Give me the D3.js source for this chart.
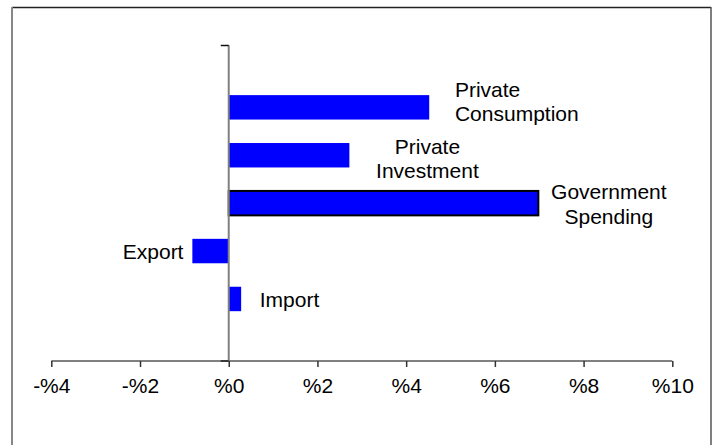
<!DOCTYPE html>
<html>
<head>
<meta charset="utf-8">
<script src="https://cdn.jsdelivr.net/npm/d3@7"></script>
<style>
    body { margin: 0; background: #fff; }
    text { font-family: "Liberation Sans", Arial, sans-serif; fill: #000; }
</style>
</head>
<body>
<div id="chart"></div>
<script>

// data
let categories = ['Private Consumption', 'Private Investment', 'Government Spending', 'Export', 'Import'];
let values = [4.52, 2.72, 6.98, -0.82, 0.28];
let highlighted = [false, false, true, false, false];
let tickValues = [-4, -2, 0, 2, 4, 6, 8, 10];

// data label text, split in lines
let labelLines = [['Private', 'Consumption'], ['Private', 'Investment'], ['Government', 'Spending'], ['Export'], ['Import']];

// label placement (x in % units, first line offset from bar centre in px)
let labelLayout = [
    {at: 5.10, anchor: 'start', dy: -18},
    {at: 4.48, anchor: 'middle', dy: -9},
    {at: 8.57, anchor: 'middle', dy: -11.5},
    {at: -1.02, anchor: 'end', dy: 0.5},
    {at: 0.70, anchor: 'start', dy: 1}
];

let width = 718, height = 445;
let fontSize = 21;

let svg = d3.select('#chart').append('svg')
    .attr('width', width)
    .attr('height', height);

// outer frame
svg.append('line').attr('x1', 12).attr('x2', 711).attr('y1', 7.5).attr('y2', 7.5)
    .attr('stroke', '#222').attr('stroke-width', 1.5);
svg.append('line').attr('x1', 12).attr('x2', 12).attr('y1', 7).attr('y2', 445)
    .attr('stroke', '#888').attr('stroke-width', 2);
svg.append('line').attr('x1', 711).attr('x2', 711).attr('y1', 7).attr('y2', 445)
    .attr('stroke', '#555').attr('stroke-width', 1.5);

let xScale = d3.scaleLinear()
    .domain([-4, 10])
    .range([51.3, 672.3]);

let yScale = d3.scaleBand()
    .domain(categories)
    .range([45.3, 361])
    .paddingInner(0.49)
    .paddingOuter(1.04);

// bars
svg.selectAll('.bar')
    .data(categories)
    .enter()
    .append('rect')
    .attr('class', 'bar')
    .attr('x', (d, i) => xScale(Math.min(0, values[i])))
    .attr('y', d => yScale(d))
    .attr('width', (d, i) => Math.abs(xScale(values[i]) - xScale(0)))
    .attr('height', yScale.bandwidth())
    .attr('fill', '#0000ff')
    .attr('stroke', (d, i) => highlighted[i] ? '#000' : 'none')
    .attr('stroke-width', 2);

// y axis (category axis at zero)
svg.append('line')
    .attr('x1', xScale(0)).attr('x2', xScale(0))
    .attr('y1', 45.3).attr('y2', 361)
    .attr('stroke', '#808080').attr('stroke-width', 2);
svg.append('line')
    .attr('x1', xScale(0) - 8).attr('x2', xScale(0))
    .attr('y1', 45.5).attr('y2', 45.5)
    .attr('stroke', '#111').attr('stroke-width', 1.5);

// x axis
let xAxis = d3.axisBottom(xScale)
    .tickValues(tickValues)
    .tickSize(6)
    .tickFormat(d => (d < 0 ? '-' : '') + '%' + Math.abs(d));

let xAxisGroup = svg.append('g')
    .attr('class', 'x-axis axis')
    .attr('transform', 'translate(0, 361)')
    .call(xAxis);

xAxisGroup.select('.domain')
    .attr('d', `M${xScale(-4)},0H${xScale(10)}`)
    .attr('stroke', '#808080').attr('stroke-width', 2);
xAxisGroup.selectAll('.tick line').attr('stroke', '#333').attr('stroke-width', 1.5);
xAxisGroup.selectAll('.tick text')
    .attr('y', 17)
    .style('font-family', '"Liberation Sans", Arial, sans-serif')
    .style('font-size', fontSize + 'px')
    .attr('fill', '#000');

svg.append('line')
    .attr('x1', xScale(0) - 8).attr('x2', xScale(0))
    .attr('y1', 361).attr('y2', 361)
    .attr('stroke', '#222').attr('stroke-width', 1.5);

// data labels
let lineH = 24.5;
categories.forEach(function(c, i){
    let lay = labelLayout[i];
    let top = yScale(c) + yScale.bandwidth() / 2 + lay.dy;
    let t = svg.append('text')
        .attr('text-anchor', lay.anchor)
        .style('font-size', fontSize + 'px');
    labelLines[i].forEach(function(l, j){
        t.append('tspan')
            .attr('x', xScale(lay.at))
            .attr('y', top + j * lineH)
            .attr('dy', '0.35em')
            .text(l);
    });
});

</script>
</body>
</html>
